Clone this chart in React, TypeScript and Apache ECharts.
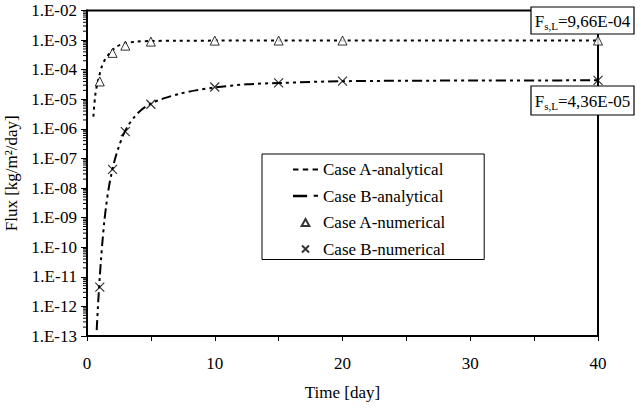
import React, { useEffect, useRef } from "react";
import * as echarts from "echarts";

// ---- data ----
const caseATimeAnalytical = [0.5, 0.63, 0.76, 0.94, 1.15, 1.41, 1.8, 2.32, 3.0, 3.9, 5, 7, 10, 15, 20, 30, 40];
const caseAFluxAnalytical = [2.6e-6, 1.2e-5, 2.7e-5, 5.8e-5, 1.25e-4, 2.2e-4, 3.7e-4, 6.0e-4, 7.8e-4, 8.9e-4, 9.3e-4, 9.5e-4, 9.6e-4, 9.64e-4, 9.65e-4, 9.66e-4, 9.66e-4];

const caseBTimeAnalytical = [0.76, 0.85, 0.92, 1.0, 1.1, 1.2, 1.35, 1.5, 1.7, 1.9, 2.14, 2.45, 2.84, 3.23, 3.63, 4.2, 5, 6, 7.3, 8.5, 10, 12.5, 15, 20, 30, 40];
const caseBFluxAnalytical = [1.58e-13, 8.9e-13, 2.8e-12, 1e-11, 4e-11, 1.4e-10, 7.1e-10, 2.5e-9, 1e-8, 2.8e-8, 7.9e-8, 2.2e-7, 6.3e-7, 1.3e-6, 2.3e-6, 4.2e-6, 7.1e-6, 1.07e-5, 1.55e-5, 2.0e-5, 2.5e-5, 3.2e-5, 3.55e-5, 4.07e-5, 4.3e-5, 4.36e-5];

const numericalTime = [1, 2, 3, 5, 10, 15, 20, 40];
const caseAFluxNumerical = [4.0e-5, 3.7e-4, 6.5e-4, 8.9e-4, 9.6e-4, 9.65e-4, 9.66e-4, 9.66e-4];
const caseBFluxNumerical = [4.5e-12, 4.3e-8, 8.1e-7, 6.8e-6, 2.6e-5, 3.6e-5, 4.1e-5, 4.36e-5];

const steadyFluxA = 9.66e-4;
const steadyFluxB = 4.36e-5;
const steadyLabelA = "=9,66E-04";
const steadyLabelB = "=4,36E-05";

const yTickLabels = ["1.E-13", "1.E-12", "1.E-11", "1.E-10", "1.E-09", "1.E-08", "1.E-07", "1.E-06", "1.E-05", "1.E-04", "1.E-03", "1.E-02"];
const yExponents = [-13, -12, -11, -10, -9, -8, -7, -6, -5, -4, -3, -2];
const minorTickMultipliers = [2, 3, 4, 5, 6, 7, 8, 9];

const seriesNames = ["Case A-analytical", "Case B-analytical", "Case A-numerical", "Case B-numerical"];

const FONT = "Liberation Serif";
const X_ICON = "path://M0,0L10,10M0,10L10,0";
const TRI_ICON = "path://M5,0L10,9L0,9Z";

export default function App() {
  const ref = useRef<HTMLDivElement>(null);
  useEffect(() => {
    if (!ref.current) return;
    const chart = echarts.init(ref.current, null, { renderer: "svg" });

    const minorVals: number[][] = [];
    yExponents.slice(0, -1).forEach((e) => {
      minorTickMultipliers.forEach((m) => minorVals.push([0, m * Math.pow(10, e)]));
    });

    const zip = (xs: number[], ys: number[]) => xs.map((x, i) => [x, ys[i]]);
    const txt = { fontFamily: FONT, fontSize: 17, color: "#000", fontWeight: "normal" as const };

    const option: any = {
      animation: false,
      textStyle: { fontFamily: FONT, color: "#000" },
      grid: {
        left: 87,
        right: 46,
        top: 10.5,
        bottom: 74,
        show: true,
        borderColor: "#000",
        borderWidth: 2,
        containLabel: false,
        outerBoundsMode: "none",
      },
      legend: {
        data: [
          { name: seriesNames[0], icon: "path://M0,0h5v2h-5zM9,0h5v2h-5zM18,0h5v2h-5z" },
          { name: seriesNames[1], icon: "path://M0,0h13v2.4h-13zM19,0h4v2h-4z" },
          { name: seriesNames[2], icon: TRI_ICON },
          { name: seriesNames[3], icon: X_ICON },
        ],
        orient: "vertical",
        left: 262,
        top: 154,
        padding: [7, 38, 2, 31],
        itemGap: 9.5,
        itemWidth: 25,
        itemHeight: 7,
        backgroundColor: "#fff",
        borderColor: "#000",
        borderWidth: 1,
        textStyle: { ...txt, lineHeight: 17 },
      },
      xAxis: {
        type: "value",
        min: 0,
        max: 40,
        interval: 10,
        name: "Time [day]",
        nameLocation: "middle",
        nameGap: 48,
        nameTextStyle: txt,
        axisLine: { lineStyle: { color: "#000", width: 2 } },
        axisTick: { inside: false, length: 5, lineStyle: { color: "#000", width: 1 } },
        minorTick: { show: true, splitNumber: 2, length: 5, lineStyle: { color: "#000", width: 1 } },
        axisLabel: { ...txt, margin: 19 },
        splitLine: { show: false },
      },
      yAxis: {
        type: "log",
        logBase: 10,
        min: 1e-13,
        max: 1e-2,
        interval: 1,
        name: "Flux [kg/m²/day]",
        nameLocation: "middle",
        nameGap: 67,
        nameTextStyle: txt,
        axisLine: { lineStyle: { color: "#000", width: 2 } },
        axisTick: { inside: false, length: 6, lineStyle: { color: "#000", width: 1 } },
        axisLabel: {
          ...txt,
          margin: 10,
          formatter: (v: number) => {
            const e = Math.round(Math.log10(v));
            const i = yExponents.indexOf(e);
            return i >= 0 ? yTickLabels[i] : "";
          },
        },
        splitLine: { show: false },
      },
      series: [
        {
          name: "minor",
          type: "custom",
          silent: true,
          clip: false,
          data: minorVals,
          renderItem: (params: any, api: any) => {
            const p = api.coord([api.value(0), api.value(1)]);
            return {
              type: "line",
              shape: { x1: p[0] - 4, y1: p[1], x2: p[0], y2: p[1] },
              style: { stroke: "#000", lineWidth: 1 },
            };
          },
        },
        {
          name: seriesNames[0],
          type: "line",
          data: zip(caseATimeAnalytical, caseAFluxAnalytical),
          symbol: "none",
          smooth: 0.3,
          lineStyle: { color: "#000", width: 2, type: [3, 4] },
          itemStyle: { color: "#000" },
          markLine: {
            silent: true,
            symbol: "none",
            label: { show: false },
            lineStyle: { color: "#808080", width: 1.5, type: "solid" },
            data: [{ yAxis: steadyFluxA }, { yAxis: steadyFluxB }],
          },
        },
        {
          name: seriesNames[1],
          type: "line",
          data: zip(caseBTimeAnalytical, caseBFluxAnalytical),
          symbol: "none",
          smooth: 0.3,
          lineStyle: { color: "#000", width: 2, type: [10, 4, 3, 4, 3, 4] },
          itemStyle: { color: "#000" },
        },
        {
          name: seriesNames[2],
          type: "scatter",
          data: zip(numericalTime, caseAFluxNumerical),
          symbol: "triangle",
          symbolSize: 9,
          itemStyle: { color: "#fff", borderColor: "#000", borderWidth: 1 },
          z: 5,
        },
        {
          name: seriesNames[3],
          type: "scatter",
          data: zip(numericalTime, caseBFluxNumerical),
          symbol: X_ICON,
          symbolSize: 9,
          itemStyle: { color: "#000", borderColor: "#000", borderWidth: 1.2 },
          z: 5,
        },
      ],
      graphic: [
        {
          type: "group",
          children: [
            {
              type: "rect",
              shape: { x: 531, y: 7, width: 103, height: 27 },
              style: { fill: "#fff", stroke: "#000", lineWidth: 1.2 },
              z: 100,
            },
            {
              type: "text",
              x: 582.5,
              y: 21,
              z: 101,
              style: {
                text: "{f|F}{s|s,L}{f|" + steadyLabelA + "}",
                align: "center",
                verticalAlign: "middle",
                rich: {
                  f: { fontFamily: FONT, fontSize: 17, lineHeight: 20, fill: "#000", verticalAlign: "middle" },
                  s: { fontFamily: FONT, fontSize: 11, lineHeight: 11, fill: "#000", verticalAlign: "bottom" },
                },
              },
            },
            {
              type: "rect",
              shape: { x: 531, y: 86, width: 103, height: 29 },
              style: { fill: "#fff", stroke: "#000", lineWidth: 1.2 },
              z: 100,
            },
            {
              type: "text",
              x: 582.5,
              y: 101,
              z: 101,
              style: {
                text: "{f|F}{s|s,L}{f|" + steadyLabelB + "}",
                align: "center",
                verticalAlign: "middle",
                rich: {
                  f: { fontFamily: FONT, fontSize: 17, lineHeight: 20, fill: "#000", verticalAlign: "middle" },
                  s: { fontFamily: FONT, fontSize: 11, lineHeight: 11, fill: "#000", verticalAlign: "bottom" },
                },
              },
            },
          ],
        },
      ],
    };
    chart.setOption(option);
    return () => chart.dispose();
  }, []);
  return <div ref={ref} style={{ width: 644, height: 410, position: "absolute", left: 0, top: 0, background: "#fff" }} />;
}
